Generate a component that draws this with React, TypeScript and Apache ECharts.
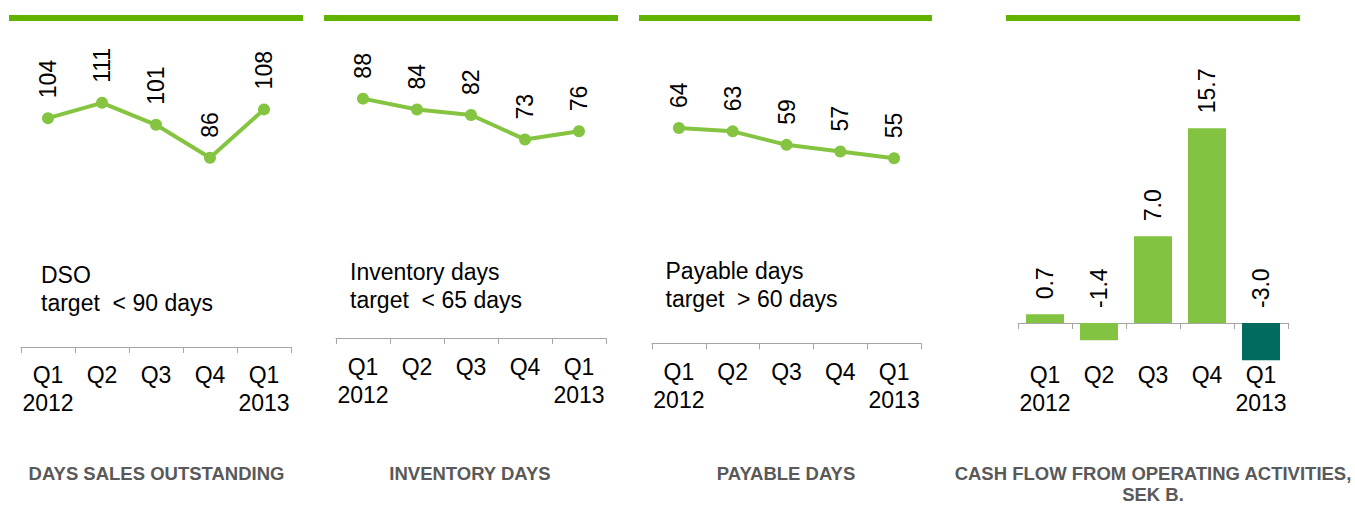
import React, { useEffect, useRef } from "react";
import * as echarts from "echarts";

const quarters = ["Q1\n2012", "Q2", "Q3", "Q4", "Q1\n2013"];
const dsoValues = [104, 111, 101, 86, 108];
const inventoryValues = [88, 84, 82, 73, 76];
const payableValues = [64, 63, 59, 57, 55];
const cashFlowValues = [0.7, -1.4, 7.0, 15.7, -3.0];
const panelTitles = [
  "DAYS SALES OUTSTANDING",
  "INVENTORY DAYS",
  "PAYABLE DAYS",
  "CASH FLOW FROM OPERATING ACTIVITIES,\nSEK B.",
];
const panelNotes = ["DSO\ntarget  < 90 days", "Inventory days\ntarget  < 65 days", "Payable days\ntarget  > 60 days"];

const FONT = '"Liberation Sans", Arial, Helvetica, sans-serif';
const TOP_GREEN = "#62b300";
const LINE_GREEN = "#84c441";
const BAR_GREEN = "#82c341";
const DARK_TEAL = "#006b5e";
const AXIS_GRAY = "#a6a6a6";
const TITLE_GRAY = "#595959";

const grids = [
  { left: 21, width: 270, top: 17, height: 330 },
  { left: 336, width: 270, top: 11.6, height: 326.4 },
  { left: 652, width: 269, top: 6.9, height: 336.4 },
  { left: 1018, width: 270, top: 75, height: 310 },
];
const yRanges = [
  [0, 150],
  [0, 120],
  [0, 100],
  [-5, 20],
];
const labelMargins = [14, 15, 15, -24];
const topBars = [
  { x: 9, w: 294 },
  { x: 324, w: 294 },
  { x: 639, w: 293 },
  { x: 1006, w: 294 },
];
const titleCenters = [156.5, 470, 786, 1153];
const noteX = [41, 350, 665.5];
const noteY = [261, 257.5, 256.5];

export default function App() {
  const ref = useRef<HTMLDivElement>(null);
  useEffect(() => {
    if (!ref.current) return;
    const chart = echarts.init(ref.current, null, { renderer: "svg" });

    const xAxes = grids.map((_, i) => ({
      type: "category",
      gridIndex: i,
      data: quarters,
      axisLine: { show: true, lineStyle: { color: AXIS_GRAY, width: 1 } },
      axisTick: { show: true, length: 6, lineStyle: { color: AXIS_GRAY } },
      axisLabel: {
        color: "#000",
        fontFamily: FONT,
        fontSize: 23,
        lineHeight: 28,
        margin: labelMargins[i],
        interval: 0,
      },
      splitLine: { show: false },
    }));
    const yAxes = grids.map((_, i) => ({
      type: "value",
      gridIndex: i,
      min: yRanges[i][0],
      max: yRanges[i][1],
      show: false,
      splitLine: { show: false },
    }));

    const lineLabel = {
      show: true,
      position: "top",
      rotate: 90,
      align: "left",
      verticalAlign: "middle",
      distance: 14,
      color: "#000",
      fontFamily: FONT,
      fontSize: 23,
    };
    const lineSeries = [dsoValues, inventoryValues, payableValues].map((vals, i) => ({
      type: "line",
      xAxisIndex: i,
      yAxisIndex: i,
      data: vals,
      symbol: "circle",
      symbolSize: 12,
      lineStyle: { color: LINE_GREEN, width: 4 },
      itemStyle: { color: LINE_GREEN },
      label: lineLabel,
    }));

    const barSeries = {
      type: "bar",
      xAxisIndex: 3,
      yAxisIndex: 3,
      data: cashFlowValues,
      barWidth: 38,
      itemStyle: {
        color: (p: any) => (p.dataIndex === cashFlowValues.length - 1 ? DARK_TEAL : BAR_GREEN),
      },
      label: {
        show: true,
        position: "top",
        rotate: 90,
        align: "left",
        verticalAlign: "middle",
        distance: 15,
        color: "#000",
        fontFamily: FONT,
        fontSize: 23,
        formatter: (p: any) => Number(p.value).toFixed(1),
      },
    };

    const graphics: any[] = [];
    topBars.forEach((b) =>
      graphics.push({
        type: "rect",
        shape: { x: b.x, y: 15, width: b.w, height: 6 },
        style: { fill: TOP_GREEN },
        silent: true,
      })
    );
    panelNotes.forEach((t, i) =>
      graphics.push({
        type: "text",
        x: noteX[i],
        y: noteY[i],
        style: {
          text: t,
          font: `23px ${FONT}`,
          lineHeight: 28,
          fill: "#000",
          textAlign: "left",
          textVerticalAlign: "top",
        },
      })
    );
    panelTitles.forEach((t, i) =>
      graphics.push({
        type: "text",
        x: titleCenters[i],
        y: 462.5,
        style: {
          text: t,
          font: `bold 18.5px ${FONT}`,
          lineHeight: 21,
          fill: TITLE_GRAY,
          textAlign: "center",
          textVerticalAlign: "top",
        },
      })
    );

    chart.setOption({
      animation: false,
      backgroundColor: "#ffffff",
      grid: grids.map((g) => ({ ...g, containLabel: false })),
      xAxis: xAxes,
      yAxis: yAxes,
      series: [...lineSeries, barSeries],
      graphic: graphics,
    } as any);

    return () => chart.dispose();
  }, []);

  return (
    <div
      ref={ref}
      style={{ position: "absolute", left: 0, top: 0, width: 1355, height: 528 }}
    />
  );
}
